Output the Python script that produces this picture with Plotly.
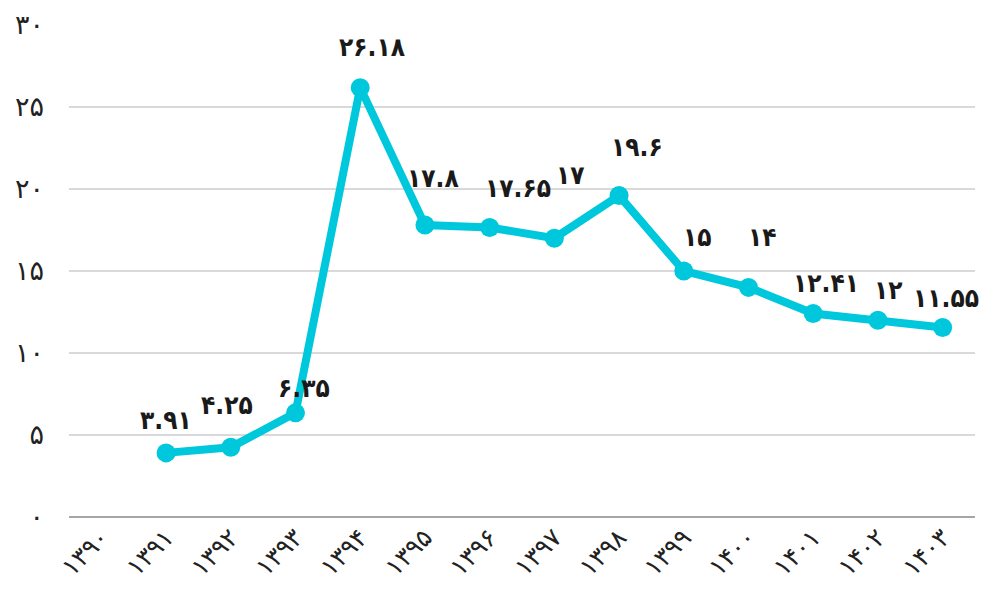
import plotly.graph_objects as go

# Solar-Hijri years and yearly values
years = [1390, 1391, 1392, 1393, 1394, 1395, 1396, 1397, 1398, 1399, 1400, 1401, 1402, 1403]
values = [None, 3.91, 4.25, 6.35, 26.18, 17.8, 17.65, 17, 19.6, 15, 14, 12.41, 12, 11.55]
y_ticks = [0, 5, 10, 15, 20, 25, 30]

# pixel offsets of each value label relative to its point
label_dx = [0, 0, -4, 8, 12, 8, 28, 16, 18, 14, 14, 13, 11, 3]
label_dy = [0, 33, 42, 25, 41, 47, 40, 63, 49, 34, 50, 30, 30, 30]

FA = str.maketrans("0123456789", "۰۱۲۳۴۵۶۷۸۹")


def fa(v):
    return str(v).translate(FA)


cats = [fa(y) for y in years]
LINE = "#00c8dc"
FONT = "DejaVu Sans"
LABEL_FONT = "DejaVu Sans Condensed"

fig = go.Figure()
fig.add_trace(go.Scatter(
    x=cats, y=values, mode="lines+markers",
    line=dict(color=LINE, width=8),
    marker=dict(color=LINE, size=19),
    connectgaps=False, hoverinfo="skip",
))

for c, v, dx, dy in zip(cats, values, label_dx, label_dy):
    if v is None:
        continue
    fig.add_annotation(
        x=c, y=v, text=f"<b>{fa(v)}</b>", showarrow=False,
        xshift=dx, yshift=dy,
        font=dict(family=LABEL_FONT, size=26, color="#1a1a1a"),
    )

fig.update_layout(
    width=985, height=589,
    margin=dict(l=69, r=10, t=25, b=72),
    paper_bgcolor="white", plot_bgcolor="white",
    showlegend=False,
    font=dict(family=FONT, color="#222"),
)
fig.update_xaxes(
    type="category", categoryorder="array", categoryarray=cats,
    range=[-0.5, len(cats) - 0.5],
    tickangle=-45, showgrid=False, showline=False, zeroline=False,
    automargin=False,
    tickfont=dict(family=FONT, size=25, color="#222"),
)
fig.update_yaxes(
    range=[0, 30], tickvals=y_ticks, ticktext=[fa(t) for t in y_ticks],
    showgrid=True, gridcolor="#d9d9d9", gridwidth=2,
    zeroline=True, zerolinecolor="#a6a6a6", zerolinewidth=2,
    showline=False, ticklabelstandoff=24, automargin=False,
    tickfont=dict(family=FONT, size=27, color="#222"),
)

fig.write_html("out.html")
